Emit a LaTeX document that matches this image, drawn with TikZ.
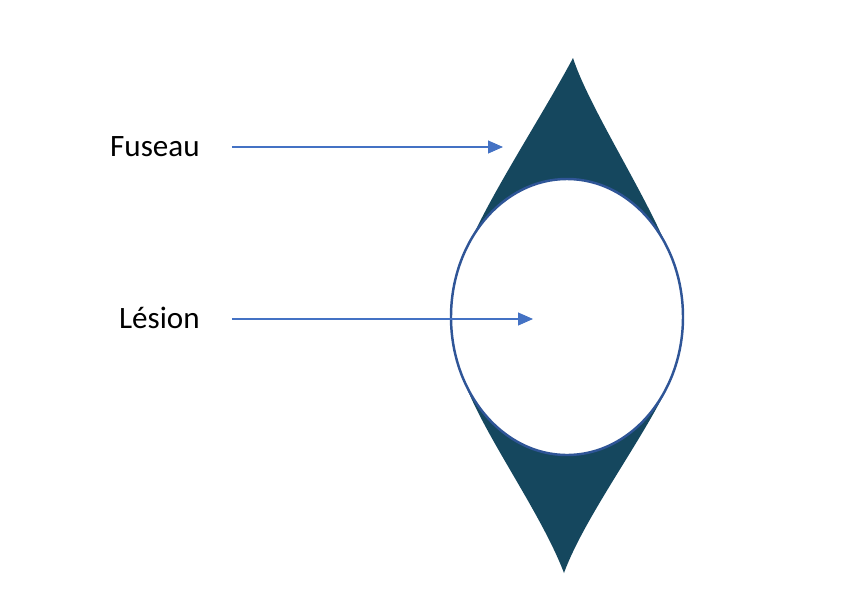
\documentclass[tikz,border=0pt]{standalone}
\usepackage{fontspec}
\setmainfont{Carlito}
\usetikzlibrary{arrows.meta}
\definecolor{fuseaucol}{HTML}{15475E}
\definecolor{lesioncol}{HTML}{2F5597}
\definecolor{arrowcol}{HTML}{4472C4}

\begin{document}
\begin{tikzpicture}[x=0.02cm, y=-0.02cm,
        label/.style={anchor=east, inner sep=0pt, text height=11pt, text depth=0pt,
            font=\fontsize{17.7}{20}\selectfont},
        pointer/.style={draw=arrowcol, line width=0.6pt, shorten <=0.64cm,
            -{Triangle[length=0.3cm, width=0.26cm]}}]
        \useasboundingbox (0,0) rectangle (867,606);

        % Draw spindle
        \fill[fuseaucol] (573,58) .. controls (540,120) and (480,210) .. (462,262)
            -- (480,317) -- (462,375)
            .. controls (480,430) and (540,510) .. (564,573)
            .. controls (585,515) and (650,430) .. (673,375)
            -- (655,317) -- (673,262)
            .. controls (650,200) and (590,110) .. cycle;

        % Draw lesion
        \draw[lesioncol, fill=white, line width=1.4pt] (567,317) ellipse [x radius=116, y radius=138];

        % Labels
        \node[label] (fuseau) at (200,147) {Fuseau};
        \node[label] (lesion) at (200,319) {Lésion};
        \coordinate (fuseautip) at (503,147);
        \coordinate (lesiontip) at (533,319);

        % Draw arrows
        \draw[pointer] (fuseau.east) -- (fuseautip);
        \draw[pointer] (lesion.east) -- (lesiontip);
    \end{tikzpicture}
\end{document}
